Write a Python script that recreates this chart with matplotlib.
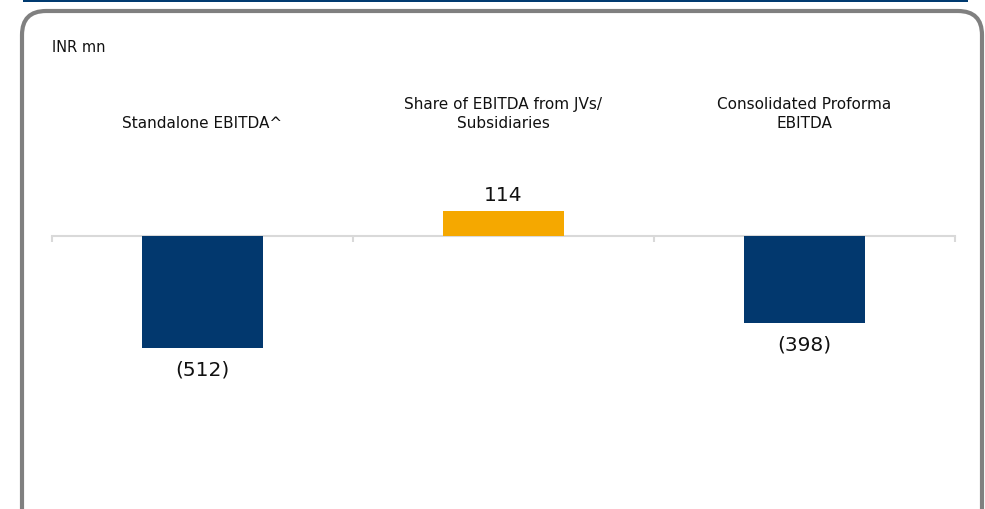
#!/usr/bin/env python3
import numpy as np
import matplotlib
matplotlib.use('Agg')
import matplotlib.pyplot as plt
import matplotlib.transforms as mtransforms
from matplotlib.patches import FancyBboxPatch, Rectangle

categories = ['Standalone EBITDA^', 'Share of EBITDA from JVs/\nSubsidiaries', 'Consolidated Proforma\nEBITDA']
values = [-512, 114, -398]
value_labels = ['(512)', '114', '(398)']
bar_colors = ['#02386E', '#F5A800', '#02386E']
unit_label = 'INR mn'

W, H = 985, 510
fig = plt.figure(figsize=(W / 100, H / 100), dpi=100)
plt.rcParams['font.family'] = ['DejaVu Sans']

# rounded frame + header strip (pixel coords, origin bottom-left)
fig.patches.append(Rectangle((23 / W, 1 - 3 / H), 945 / W, 3 / H, transform=fig.transFigure,
                             facecolor='#003A70', edgecolor='none', zorder=-1))
fig.patches.append(FancyBboxPatch((22, -40), 960, (H - 12) + 40, boxstyle='round,pad=0,rounding_size=24',
                                  transform=mtransforms.IdentityTransform(),
                                  facecolor='none', edgecolor='#808080', linewidth=3, zorder=-1))

# axes: zero line at y=237 px, scale ~0.219 px per unit
ax_top, ax_bot = 140, 480
ax = fig.add_axes([52 / W, 1 - ax_bot / H, 903 / W, (ax_bot - ax_top) / H])
ax.patch.set_alpha(0)
scale = 112 / 512
ax.set_ylim(-(ax_bot - 237) / scale, (237 - ax_top) / scale)
ax.set_xlim(0, 3)

x = np.arange(len(values)) + 0.5
ax.bar(x, values, width=0.4, color=bar_colors, zorder=2)

for xi, v, lab in zip(x, values, value_labels):
    if v >= 0:
        ax.annotate(lab, (xi, v), xytext=(0, 5), textcoords='offset points',
                    ha='center', va='bottom', fontsize=14.5, color='#111111')
    else:
        ax.annotate(lab, (xi, v), xytext=(0, -8), textcoords='offset points',
                    ha='center', va='top', fontsize=14.5, color='#111111')

for s in ['top', 'right', 'left']:
    ax.spines[s].set_visible(False)
ax.spines['bottom'].set_position(('data', 0))
ax.spines['bottom'].set_color('#D9D9D9')
ax.spines['bottom'].set_linewidth(1.5)
ax.spines['bottom'].set_zorder(1)
ax.set_yticks([])
ax.set_xticks([0, 1, 2, 3])
ax.set_xticklabels([])
ax.tick_params(axis='x', direction='out', length=4.5, width=1.5, color='#D9D9D9')

trans = mtransforms.blended_transform_factory(ax.transData, fig.transFigure)
for xi, c in zip(x, categories):
    ax.text(xi, 1 - 128 / H, c, transform=trans, ha='center', va='baseline',
            fontsize=11, color='#111111', linespacing=1.3)

fig.text(52 / W, 1 - 47 / H, unit_label, ha='left', va='center', fontsize=10.5, color='#111111')

fig.savefig('out.png', dpi=100)
